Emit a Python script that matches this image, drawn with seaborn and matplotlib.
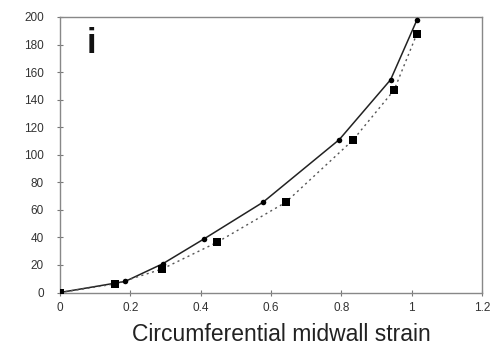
import matplotlib
matplotlib.use("Agg")
import matplotlib.pyplot as plt
import seaborn as sns
import pandas as pd

sns.set_theme(style="white")
plt.rcParams['font.family'] = ['Liberation Sans', 'DejaVu Sans']

strain_a = [0.0, 0.185, 0.293, 0.41, 0.577, 0.794, 0.94, 1.015]
stress_a = [0.0, 8.0, 21.0, 39.0, 65.5, 111.0, 154.5, 198.0]
strain_b = [0.0, 0.156, 0.29, 0.447, 0.642, 0.833, 0.95, 1.015]
stress_b = [0.0, 6.2, 17.0, 36.5, 65.5, 110.7, 147.0, 188.0]
xticks = [0, 0.2, 0.4, 0.6, 0.8, 1.0, 1.2]
xticklabels = ["0", "0.2", "0.4", "0.6", "0.8", "1", "1.2"]
yticks = list(range(0, 201, 20))

dfa = pd.DataFrame({"x": strain_a, "y": stress_a})
dfb = pd.DataFrame({"x": strain_b, "y": stress_b})

fig = plt.figure(figsize=(4.97, 3.46), dpi=100)
ax = fig.add_axes([0.1207, 0.1546, 0.8493, 0.7963])

sns.lineplot(data=dfa, x="x", y="y", ax=ax, color="#222222", lw=1.1,
             linestyle="-", sort=False)
sns.lineplot(data=dfb, x="x", y="y", ax=ax, color="#555555", lw=1.0,
             linestyle=(0, (1.5, 2.5)), sort=False)
sns.scatterplot(data=dfa, x="x", y="y", ax=ax, color="black", marker="o",
                s=16, linewidth=0, zorder=5)
sns.scatterplot(data=dfb, x="x", y="y", ax=ax, color="black", marker="s",
                s=30, linewidth=0, zorder=5)

ax.set_xlim(0, 1.2)
ax.set_ylim(0, 200)
ax.set_xticks(xticks)
ax.set_xticklabels(xticklabels)
ax.set_yticks(yticks)
ax.tick_params(axis="both", direction="inout", length=5, width=0.8,
               color="#777777", labelsize=8.5, labelcolor="#333333",
               bottom=True, left=True)
ax.tick_params(axis="y", pad=9)
ax.tick_params(axis="x", pad=4)
for s in ax.spines.values():
    s.set_color("#888888")
    s.set_linewidth(1.0)
ax.set_xlabel("Circumferential midwall strain", fontsize=16.5, color="#222222")
ax.xaxis.set_label_coords(0.524, -0.11, transform=ax.transAxes)
ax.xaxis.label.set_va("top")
ax.set_ylabel("")
ax.text(0.064, 0.869, "i", transform=ax.transAxes, fontsize=25,
        fontweight="bold", va="baseline", ha="left", color="#111111")

fig.savefig("out.png", dpi=100)
